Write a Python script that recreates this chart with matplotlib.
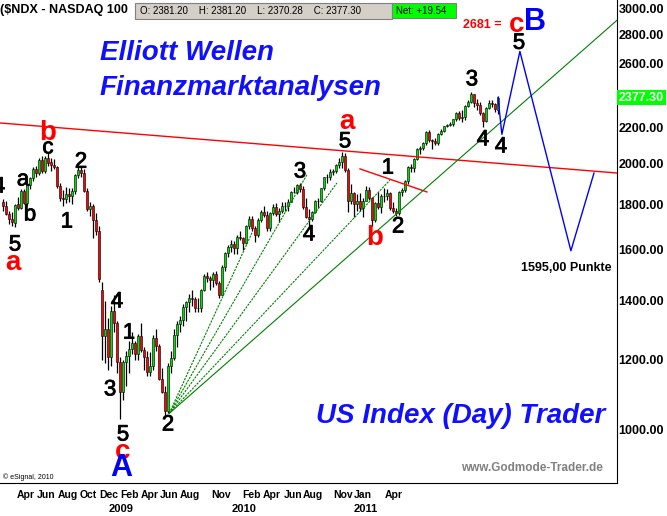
import matplotlib.pyplot as plt
import matplotlib.patheffects as pe
from matplotlib.patches import Rectangle

plt.rcParams['font.family'] = ['Liberation Sans', 'DejaVu Sans']

# weekly candles, Feb 22 2008 .. Apr 21 2011
opens = [1810, 1790, 1755, 1733, 1715, 1800, 1784, 1866, 1806, 1893,
         1928, 1976, 1951, 2018, 1962, 2033, 2010, 1995, 1985, 1890,
         1830, 1824, 1851, 1840, 1865, 1945, 1968, 1955, 1865, 1780,
         1791, 1730, 1680, 1440, 1276, 1301, 1210, 1362, 1321, 1195,
         1103, 1194, 1214, 1236, 1253, 1219, 1277, 1231, 1209, 1162,
         1180, 1270, 1244, 1142, 1105, 1050, 1180, 1206, 1280, 1319,
         1332, 1377, 1394, 1411, 1408, 1373, 1374, 1441, 1492, 1486,
         1477, 1500, 1466, 1422, 1529, 1584, 1612, 1624, 1606, 1653,
         1648, 1628, 1700, 1731, 1691, 1662, 1726, 1764, 1751, 1693,
         1758, 1786, 1756, 1770, 1790, 1790, 1813, 1860, 1860, 1892,
         1874, 1788, 1741, 1734, 1765, 1816, 1817, 1877, 1931, 1935,
         1958, 1965, 1993, 2010, 2040, 1968, 1814, 1853, 1800, 1817,
         1785, 1818, 1870, 1831, 1728, 1807, 1787, 1840, 1838, 1852,
         1784, 1770, 1760, 1860, 1867, 1912, 1983, 1977, 2024, 2079,
         2083, 2113, 2171, 2128, 2125, 2113, 2162, 2180, 2209, 2215,
         2217, 2246, 2286, 2251, 2257, 2326, 2352, 2398, 2341, 2331,
         2286, 2238, 2314, 2345, 2338, 2300]
highs = [1825, 1815, 1770, 1765, 1800, 1835, 1872, 1875, 1900, 1935,
         1985, 1990, 2030, 2040, 2040, 2055, 2030, 2025, 1990, 1905,
         1870, 1885, 1880, 1880, 1950, 1985, 1990, 1975, 1880, 1810,
         1800, 1760, 1700, 1470, 1400, 1340, 1380, 1420, 1330, 1210,
         1200, 1230, 1260, 1290, 1260, 1285, 1320, 1240, 1230, 1225,
         1280, 1300, 1250, 1175, 1120, 1190, 1230, 1300, 1330, 1345,
         1390, 1400, 1425, 1440, 1415, 1410, 1445, 1500, 1510, 1495,
         1510, 1515, 1475, 1535, 1590, 1620, 1640, 1635, 1660, 1680,
         1655, 1705, 1745, 1745, 1700, 1735, 1775, 1790, 1770, 1765,
         1800, 1805, 1785, 1810, 1810, 1825, 1865, 1885, 1900, 1905,
         1890, 1830, 1780, 1770, 1820, 1830, 1880, 1935, 1950, 1975,
         1975, 2000, 2030, 2065, 2055, 1980, 1900, 1860, 1850, 1855,
         1830, 1890, 1885, 1835, 1810, 1860, 1850, 1880, 1875, 1860,
         1810, 1785, 1865, 1880, 1920, 1990, 2000, 2030, 2085, 2095,
         2120, 2180, 2185, 2135, 2140, 2170, 2190, 2210, 2220, 2230,
         2250, 2290, 2295, 2300, 2330, 2360, 2410, 2400, 2370, 2350,
         2290, 2320, 2360, 2365, 2345, 2385]
lows = [1770, 1750, 1710, 1700, 1695, 1775, 1780, 1800, 1795, 1875,
        1915, 1935, 1945, 1955, 1955, 1990, 1965, 1975, 1880, 1815,
        1790, 1805, 1810, 1800, 1850, 1930, 1935, 1860, 1770, 1745,
        1650, 1660, 1470, 1200, 1190, 1170, 1180, 1290, 1160, 1030,
        1080, 1120, 1160, 1220, 1200, 1200, 1225, 1170, 1150, 1150,
        1170, 1230, 1140, 1100, 1040, 1045, 1160, 1200, 1240, 1290,
        1310, 1330, 1360, 1380, 1360, 1360, 1360, 1435, 1470, 1440,
        1450, 1460, 1410, 1420, 1515, 1570, 1590, 1580, 1580, 1640,
        1600, 1625, 1690, 1680, 1630, 1655, 1720, 1740, 1680, 1680,
        1750, 1745, 1720, 1760, 1770, 1770, 1810, 1855, 1850, 1860,
        1780, 1735, 1700, 1725, 1760, 1785, 1810, 1870, 1905, 1920,
        1945, 1955, 1980, 1980, 1960, 1765, 1800, 1740, 1770, 1770,
        1740, 1815, 1820, 1700, 1720, 1780, 1760, 1810, 1820, 1775,
        1760, 1745, 1750, 1840, 1860, 1900, 1960, 1960, 2020, 2050,
        2075, 2100, 2120, 2080, 2100, 2100, 2155, 2175, 2200, 2205,
        2210, 2235, 2240, 2230, 2240, 2320, 2345, 2320, 2300, 2270,
        2200, 2230, 2310, 2320, 2290, 2280]
closes = [1790, 1755, 1733, 1720, 1795, 1784, 1866, 1806, 1893, 1928,
          1976, 1951, 2018, 1962, 2033, 2005, 1995, 1985, 1890, 1830,
          1824, 1851, 1840, 1865, 1945, 1968, 1955, 1865, 1780, 1791,
          1730, 1680, 1480, 1276, 1301, 1210, 1362, 1321, 1195, 1103,
          1194, 1214, 1236, 1253, 1219, 1277, 1231, 1209, 1162, 1180,
          1270, 1244, 1142, 1105, 1050, 1180, 1206, 1280, 1319, 1332,
          1377, 1394, 1411, 1408, 1373, 1374, 1441, 1492, 1486, 1477,
          1500, 1466, 1422, 1529, 1584, 1612, 1624, 1606, 1653, 1648,
          1628, 1700, 1731, 1691, 1662, 1726, 1764, 1751, 1693, 1758,
          1786, 1756, 1770, 1790, 1790, 1813, 1860, 1860, 1892, 1874,
          1788, 1741, 1734, 1765, 1816, 1817, 1877, 1931, 1935, 1958,
          1965, 1993, 2010, 2040, 1968, 1814, 1853, 1800, 1817, 1785,
          1818, 1870, 1831, 1728, 1807, 1787, 1840, 1838, 1852, 1784,
          1770, 1760, 1860, 1867, 1912, 1983, 1977, 2024, 2079, 2083,
          2113, 2171, 2128, 2125, 2113, 2162, 2180, 2209, 2215, 2217,
          2246, 2286, 2251, 2257, 2326, 2352, 2398, 2341, 2331, 2286,
          2238, 2314, 2345, 2338, 2310, 2377.30]

# x axis labels (bar positions as shown on the chart)
month_pos = [7.7, 14.3, 21.7, 28.3, 35.3, 42.3, 49, 55.3, 62.3, 72.7,
             82.7, 89.7, 96.7, 103.3, 113.3, 120, 130.3]
month_lbl = ['Apr', 'Jun', 'Aug', 'Oct', 'Dec', 'Feb', 'Apr', 'Jun', 'Aug', 'Nov',
             'Feb', 'Apr', 'Jun', 'Aug', 'Nov', 'Jan', 'Apr']
year_pos = [39.3, 80.3, 121]
year_lbl = ['2009', '2010', '2011']
yticks = [1000, 1200, 1400, 1600, 1800, 2000, 2200, 2600, 2800, 3000]

# trend lines (bar, price)
red_long = ([-1, 204.7], [2225, 1953])
red_short = ([119, 141.3], [1974, 1859])
fan_origin = (55.4, 1044)
fan_ends = [(83, 1671), (101.3, 1944), (111.3, 1903), (129, 1918), (204.7, 2908)]
proj_x = [165, 166.3, 172.3, 189.3, 197]
proj_y = [2377.3, 2160, 2681, 1595, 1953]

# wave labels: (text, bar, price, color, size, weight)
waves = [
    ('4', -1.3, 1883, 'black', 16, 'normal'),
    ('a', 6.7, 1918, 'black', 16, 'normal'),
    ('b', 9, 1751, 'black', 16, 'normal'),
    ('5', 4, 1619, 'black', 16, 'normal'),
    ('a', 3.3, 1545, 'red', 20, 'bold'),
    ('b', 15, 2169, 'red', 20, 'bold'),
    ('c', 15, 2085, 'black', 16, 'normal'),
    ('2', 26, 2009, 'black', 16, 'normal'),
    ('1', 21.3, 1719, 'black', 16, 'normal'),
    ('4', 38, 1396, 'black', 16, 'normal'),
    ('1', 42, 1287, 'black', 16, 'normal'),
    ('3', 35.7, 1110, 'black', 16, 'normal'),
    ('5', 40, 987, 'black', 16, 'normal'),
    ('c', 40, 944, 'red', 20, 'bold'),
    ('A', 39.3, 906, 'blue', 22, 'bold'),
    ('2', 55, 1013, 'black', 16, 'normal'),
    ('3', 99, 1958, 'black', 16, 'normal'),
    ('4', 102, 1662, 'black', 16, 'normal'),
    ('a', 114.7, 2231, 'red', 20, 'bold'),
    ('5', 114, 2118, 'black', 16, 'normal'),
    ('1', 128.3, 1978, 'black', 16, 'normal'),
    ('b', 124, 1649, 'red', 20, 'bold'),
    ('2', 131.7, 1697, 'black', 16, 'normal'),
    ('3', 156.3, 2489, 'black', 16, 'normal'),
    ('4', 160, 2129, 'black', 16, 'normal'),
    ('4', 166, 2090, 'black', 16, 'normal'),
    ('5', 172, 2738, 'black', 16, 'normal'),
    ('c', 171.3, 2871, 'red', 20, 'bold'),
    ('B', 177.3, 2894, 'blue', 22, 'bold'),
]

fig = plt.figure(figsize=(6.67, 5.16), dpi=100)
ax = fig.add_axes([0, 33 / 516, 617 / 667, 483 / 516])
ax.set_yscale('log')
ax.set_ylim(871, 3065)
ax.set_xlim(-1, 204.67)

# candles
for i in range(len(closes)):
    o, h, l, c = opens[i], highs[i], lows[i], closes[i]
    ax.vlines(i, l, h, color='black', lw=0.9, zorder=2)
    col = '#00e000' if c >= o else '#ff0000'
    ax.bar(i, abs(c - o), bottom=min(o, c), width=0.8, color=col,
           edgecolor='black', linewidth=0.4, zorder=3)

ax.plot(*red_long, color='red', lw=1, zorder=4)
ax.plot(*red_short, color='red', lw=1, zorder=4)
for ex, ey in fan_ends:
    ax.plot([fan_origin[0], ex], [fan_origin[1], ey], color='#008000', lw=0.8,
            zorder=4, linestyle=(0, (2, 1)) if ex < 200 else '-')
ax.plot(proj_x, proj_y, color='blue', lw=1, zorder=4)

for t, x, y, c, s, w in waves:
    txt = ax.text(x, y, t, color=c, fontsize=s, fontweight=w, ha='center', va='center', zorder=6)
    if w == 'normal':
        # a touch heavier, like the original's digits
        txt.set_path_effects([pe.withStroke(linewidth=0.6, foreground=c)])

ax.text(159.7, 2871, '2681 =', color='red', fontsize=9, fontweight='bold', ha='center', va='center')
ax.text(187.7, 1525, '1595,00 Punkte', color='black', fontsize=9, fontweight='bold',
        ha='center', va='center')

# axes styling
for s in ['left', 'top']:
    ax.spines[s].set_visible(False)
ax.yaxis.tick_right()
ax.set_yticks(yticks)
ax.set_yticklabels(['%.2f' % v for v in yticks], fontsize=9, fontweight='bold')
ax.yaxis.set_minor_locator(plt.NullLocator())
ax.tick_params(axis='y', length=0, pad=1)
ax.set_xticks(month_pos)
ax.set_xticklabels(month_lbl, fontsize=7.5, fontweight='bold')
ax.tick_params(axis='x', length=0, pad=5)
for p, t in zip(year_pos, year_lbl):
    ax.text(p, -0.054, t, transform=ax.get_xaxis_transform(), fontsize=8,
            fontweight='bold', ha='center', va='center')

# last price tag
ax.text(1.003, 2377.3, '2377.30', transform=ax.get_yaxis_transform(), fontsize=9,
        fontweight='bold', color='white', va='center', ha='left',
        bbox=dict(boxstyle='square,pad=0.15', fc='#00ff00', ec='none'))

# header
fig.text(0 / 667, 1 - 10 / 516, '($NDX - NASDAQ 100', fontsize=9, fontweight='bold', va='center')
fig.patches.append(Rectangle((135 / 667, 1 - 19 / 516), 257 / 667, 16 / 516,
                             transform=fig.transFigure, fc='#d4d0c8', ec='#808080', lw=0.8))
fig.patches.append(Rectangle((392 / 667, 1 - 18 / 516), 64 / 667, 15 / 516,
                             transform=fig.transFigure, fc='#00ff00', ec='#808080', lw=0.8))
fig.text(140 / 667, 1 - 11 / 516, 'O: 2381.20    H: 2381.20    L: 2370.28    C: 2377.30',
         fontsize=7, va='center')
fig.text(396 / 667, 1 - 11 / 516, 'Net: +19.54', fontsize=7, va='center')

# titles
blue_txt = dict(fontsize=20, fontweight='bold', style='italic', color='#1010ff', va='center')
fig.text(100 / 667, 1 - 53 / 516, 'Elliott Wellen', **blue_txt)
fig.text(100 / 667, 1 - 88 / 516, 'Finanzmarktanalysen', **blue_txt)
fig.text(316 / 667, 1 - 416 / 516, 'US Index (Day) Trader', **blue_txt)
fig.text(603 / 667, 1 - 468 / 516, 'www.Godmode-Trader.de', fontsize=8.5, fontweight='bold',
         color='#808080', va='center', ha='right')
fig.text(3 / 667, 1 - 477 / 516, '\u00a9 eSignal, 2010', fontsize=5, va='center')

fig.savefig('out.png', dpi=100)
